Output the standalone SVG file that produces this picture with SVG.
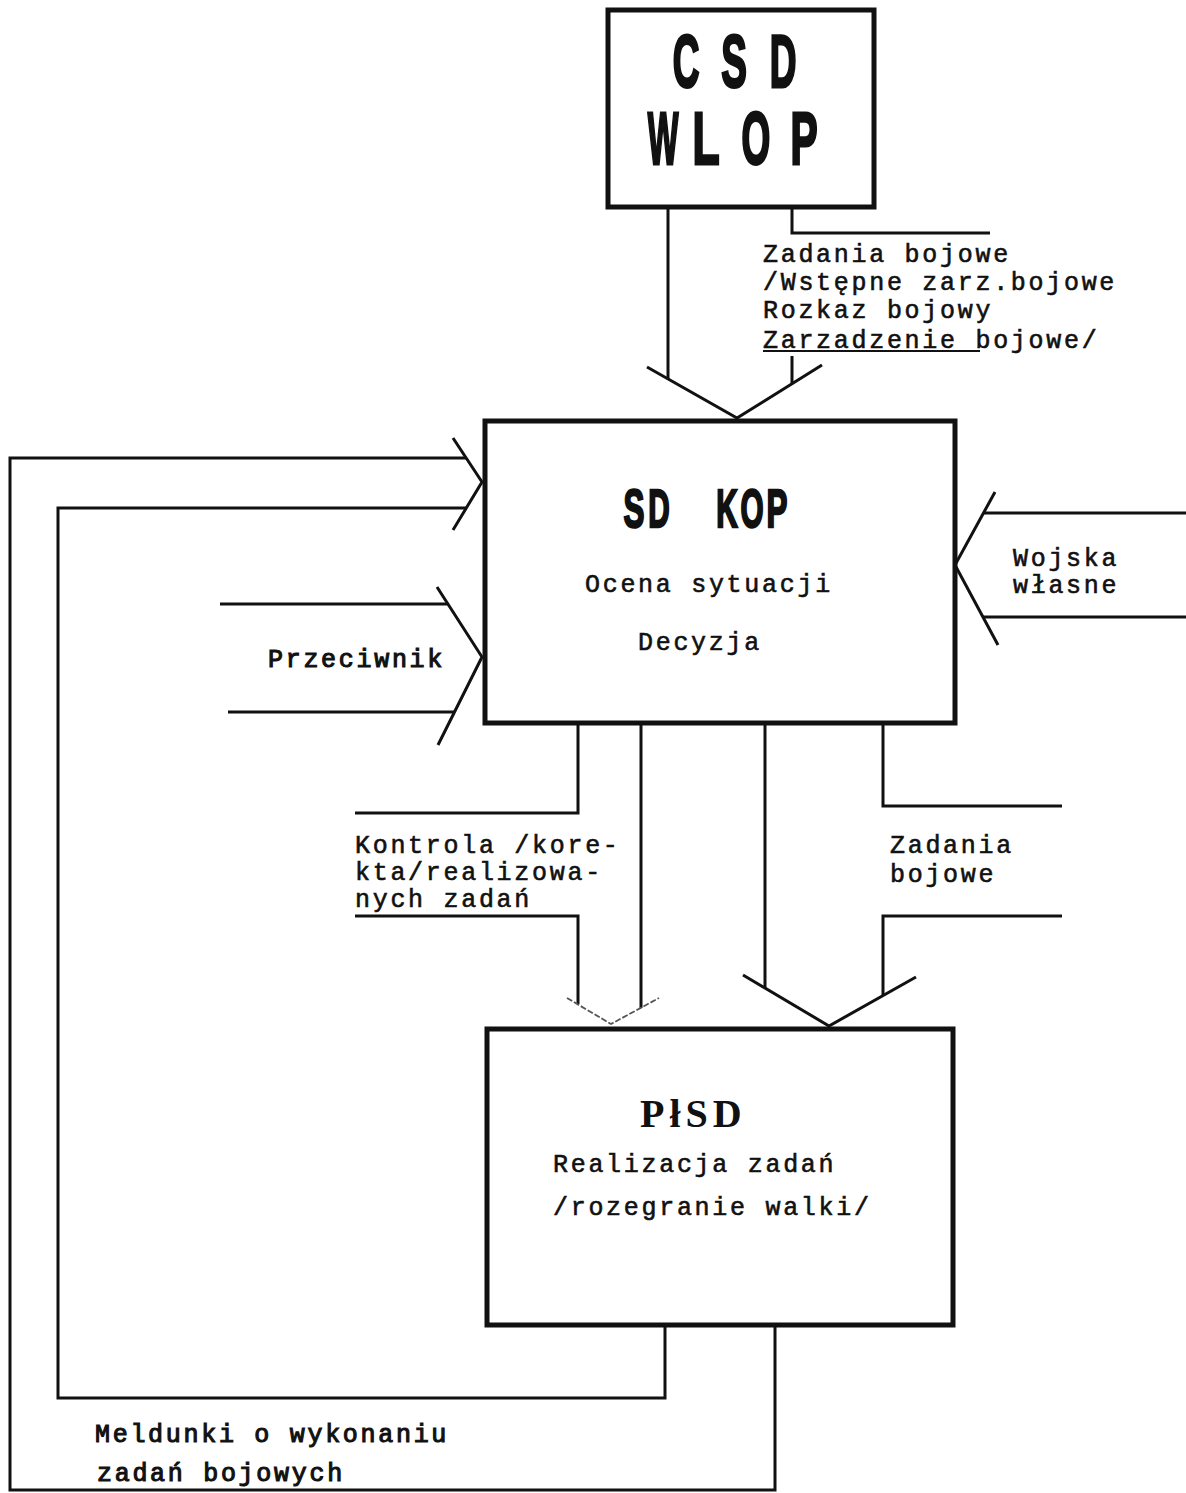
<svg xmlns="http://www.w3.org/2000/svg" width="1186" height="1493" viewBox="0 0 1186 1493">
<style>
.box{fill:none;stroke:#111;stroke-width:5}
.ln{fill:none;stroke:#111;stroke-width:3;stroke-linejoin:miter}
.thin{fill:none;stroke:#555;stroke-width:1.8;stroke-dasharray:6 2}
.tw{font-family:"Liberation Mono","DejaVu Sans Mono",monospace;font-size:25px;letter-spacing:2.7px;fill:#111;stroke:#111;stroke-width:0.6}
.hv{stroke-width:1.1}
.big{font-family:"Liberation Sans",Arial,sans-serif;font-weight:bold;fill:#111;stroke:#111;stroke-width:3;stroke-linejoin:miter;text-anchor:middle}
.ser{font-family:"Liberation Serif","Times New Roman",serif;font-weight:bold;fill:#111}
</style>
<rect width="1186" height="1493" fill="#fff"/>
<g id="connectors">
<path class="ln" d="M668,207 V379"/>
<path class="ln" d="M792,207 V233 H990"/>
<path class="ln" d="M792,356 V383"/>
<path class="ln" d="M647,367 L737,418 L822,365"/>
<path class="ln" d="M775,1325 V1490 H10 V458 H466"/>
<path class="ln" d="M665,1325 V1398 H58 V508 H466"/>
<path class="ln" d="M453,438 L482,482 L453,530"/>
<path class="ln" d="M220,604 H448"/>
<path class="ln" d="M228,712 H455"/>
<path class="ln" d="M437,587 L482,657 L438,745"/>
<path class="ln" d="M984,513 H1186"/>
<path class="ln" d="M983,617 H1186"/>
<path class="ln" d="M995,492 L955,565 L998,645"/>
<path class="ln" d="M578,723 V813 H355"/>
<path class="ln" d="M355,916 H578 V1004"/>
<path class="ln" d="M641,723 V1008"/>
<path class="thin" d="M567,998 L611,1024 L659,998"/>
<path class="ln" d="M765,723 V988"/>
<path class="ln" d="M883,723 V806 H1062"/>
<path class="ln" d="M1062,916 H883 V996"/>
<path class="ln" d="M743,975 L829,1026 L916,977"/>
</g>
<g id="csd-wlop">
<rect class="box" x="608" y="10" width="266" height="197"/>
<g class="big" font-size="74">
<text transform="translate(686,87) scale(0.5,1)">C</text>
<text transform="translate(734,87) scale(0.52,1)">S</text>
<text transform="translate(783,87) scale(0.5,1)">D</text>
</g>
<g class="big" font-size="74">
<text transform="translate(663,164) scale(0.44,1)">W</text>
<text transform="translate(706,164) scale(0.6,1)">L</text>
<text transform="translate(756,164) scale(0.5,1)">O</text>
<text transform="translate(804,164) scale(0.55,1)">P</text>
</g>
</g>
<g id="label-top">
<text class="tw" x="763" y="262">Zadania bojowe</text>
<text class="tw" x="763" y="290">/Wstępne zarz.bojowe</text>
<text class="tw" x="763" y="318">Rozkaz bojowy</text>
<text class="tw" x="763" y="348">Zarzadzenie bojowe/</text>
<path d="M763,351 H980" stroke="#111" stroke-width="2"/>
</g>
<g id="sd-kop">
<rect class="box" x="485" y="421" width="470" height="302"/>
<g class="big" font-size="54" style="stroke-width:2.5">
<text transform="translate(634,527) scale(0.58,1)">S</text>
<text transform="translate(659,527) scale(0.55,1)">D</text>
<text transform="translate(727,527) scale(0.55,1)">K</text>
<text transform="translate(752,527) scale(0.55,1)">O</text>
<text transform="translate(777,527) scale(0.58,1)">P</text>
</g>
<text class="tw" x="585" y="592">Ocena sytuacji</text>
<text class="tw" x="638" y="650">Decyzja</text>
</g>
<g id="przeciwnik">
<text class="tw hv" x="268" y="667">Przeciwnik</text>
</g>
<g id="wojska">
<text class="tw" x="1013" y="566">Wojska</text>
<text class="tw" x="1013" y="593">własne</text>
</g>
<g id="label-kontrola">
<text class="tw" x="355" y="853">Kontrola /kore-</text>
<text class="tw" x="355" y="880">kta/realizowa-</text>
<text class="tw" x="355" y="907">nych zadań</text>
</g>
<g id="label-zadania">
<text class="tw" x="890" y="853">Zadania</text>
<text class="tw" x="890" y="882">bojowe</text>
</g>
<g id="plsd">
<rect class="box" x="487" y="1029" width="466" height="296"/>
<text class="ser" x="640" y="1127" font-size="40" letter-spacing="5">PłSD</text>
<text class="tw" x="553" y="1172">Realizacja zadań</text>
<text class="tw" x="553" y="1215">/rozegranie walki/</text>
</g>
<g id="label-meldunki">
<text class="tw hv" x="95" y="1442">Meldunki o wykonaniu</text>
<text class="tw hv" x="97" y="1481">zadań bojowych</text>
</g>
</svg>
